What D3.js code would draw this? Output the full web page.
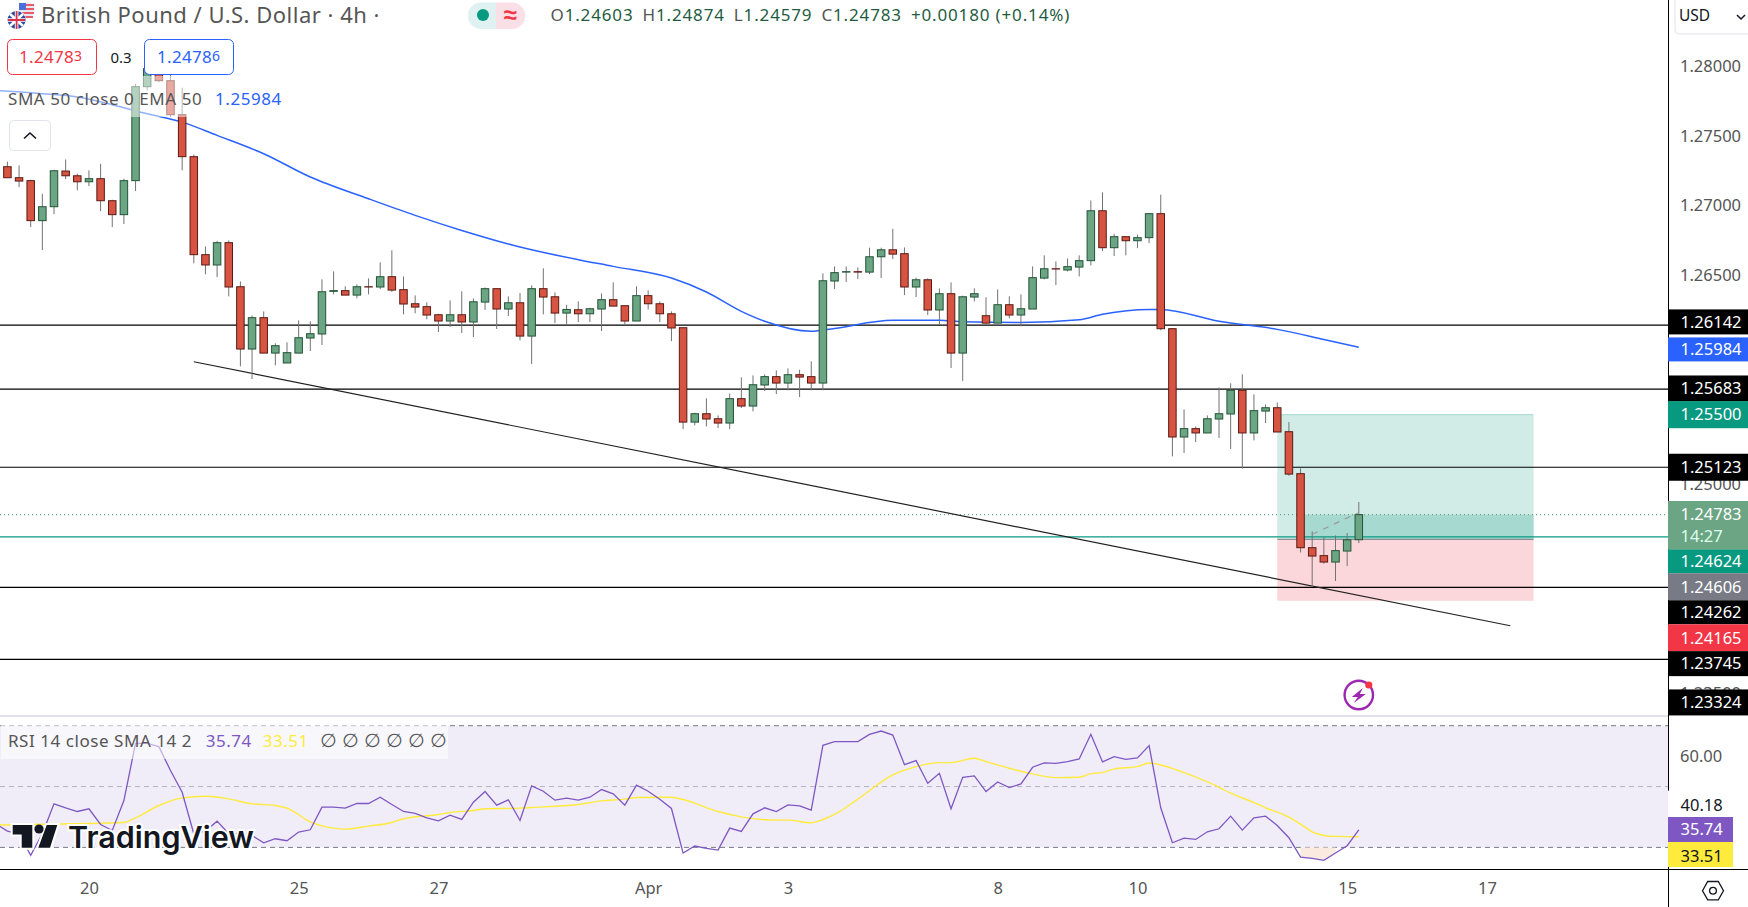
<![CDATA[<!DOCTYPE html>
<html><head><meta charset="utf-8">
<script src="https://cdn.jsdelivr.net/npm/d3@7/dist/d3.min.js"></script>
<style>html,body{margin:0;padding:0;background:#fff;overflow:hidden}svg{display:block}text{font-family:"Noto Sans",sans-serif}</style>
</head><body><svg id="c" width="1748" height="907"></svg>
<script>
// candle index -1 is the clipped first bar; index 116 is the live bar
const opens=[1.27260,1.27279,1.27200,1.27179,1.26892,1.26992,1.27248,1.27214,1.27171,1.27193,1.27035,1.26935,1.27179,1.27853,1.28018,1.27896,1.27652,1.27351,1.26648,1.26574,1.26734,1.26418,1.25971,1.26196,1.25942,1.25871,1.25942,1.26050,1.26079,1.26385,1.26390,1.26358,1.26418,1.26416,1.26490,1.26397,1.26296,1.26275,1.26217,1.26172,1.26217,1.26165,1.26308,1.26404,1.26258,1.26303,1.26064,1.26404,1.26346,1.26229,1.26253,1.26224,1.26258,1.26325,1.26282,1.26172,1.26354,1.26296,1.26224,1.26124,1.25447,1.25507,1.25471,1.25440,1.25615,1.25562,1.25713,1.25773,1.25727,1.25787,1.25773,1.25727,1.26459,1.26523,1.26526,1.26523,1.26633,1.26683,1.26655,1.26416,1.26468,1.26251,1.26368,1.25942,1.26344,1.26210,1.26157,1.26289,1.26215,1.26258,1.26480,1.26547,1.26538,1.26559,1.26605,1.26963,1.26698,1.26777,1.26748,1.26770,1.26942,1.26117,1.25340,1.25400,1.25369,1.25469,1.25505,1.25675,1.25369,1.25526,1.25550,1.25378,1.25077,1.24546,1.24489,1.24443,1.24522,1.24603];
const highs=[1.27279,1.27315,1.27288,1.27186,1.27085,1.27257,1.27331,1.27229,1.27253,1.27300,1.27042,1.27193,1.27874,1.28042,1.28066,1.27946,1.27846,1.27367,1.26707,1.26746,1.26750,1.26456,1.26212,1.26241,1.26012,1.26019,1.26177,1.26170,1.26471,1.26528,1.26421,1.26435,1.26478,1.26593,1.26679,1.26492,1.26356,1.26306,1.26224,1.26320,1.26385,1.26334,1.26413,1.26404,1.26349,1.26373,1.26428,1.26550,1.26377,1.26289,1.26313,1.26267,1.26370,1.26449,1.26282,1.26421,1.26392,1.26313,1.26241,1.26124,1.25514,1.25617,1.25495,1.25651,1.25768,1.25782,1.25789,1.25818,1.25832,1.25823,1.25883,1.26514,1.26564,1.26564,1.26557,1.26698,1.26698,1.26834,1.26700,1.26483,1.26478,1.26406,1.26449,1.26354,1.26406,1.26342,1.26399,1.26349,1.26363,1.26564,1.26643,1.26600,1.26621,1.26643,1.27037,1.27095,1.26798,1.26777,1.26793,1.26942,1.27078,1.26122,1.25538,1.25416,1.25495,1.25696,1.25725,1.25789,1.25646,1.25574,1.25588,1.25447,1.25115,1.24663,1.24622,1.24634,1.24651,1.24874];
const lows=[1.27260,1.27200,1.27133,1.26846,1.26681,1.26939,1.27190,1.27109,1.27140,1.26961,1.26846,1.26868,1.27104,1.27826,1.27886,1.27635,1.27253,1.26586,1.26507,1.26487,1.26349,1.25847,1.25756,1.25942,1.25854,1.25871,1.25942,1.25957,1.26000,1.26363,1.26358,1.26334,1.26363,1.26401,1.26380,1.26220,1.26227,1.26184,1.26093,1.26129,1.26086,1.26057,1.26251,1.26115,1.26208,1.26033,1.25863,1.26220,1.26157,1.26148,1.26165,1.26165,1.26100,1.26279,1.26148,1.26172,1.26255,1.26165,1.26028,1.25397,1.25423,1.25416,1.25404,1.25397,1.25548,1.25524,1.25670,1.25648,1.25675,1.25627,1.25675,1.25675,1.26401,1.26452,1.26473,1.26509,1.26480,1.26617,1.26358,1.26344,1.26215,1.26143,1.25835,1.25741,1.26313,1.26148,1.26157,1.26191,1.26134,1.26258,1.26471,1.26430,1.26528,1.26492,1.26571,1.26674,1.26638,1.26643,1.26695,1.26731,1.26105,1.25201,1.25225,1.25304,1.25369,1.25333,1.25254,1.25113,1.25316,1.25440,1.25376,1.25062,1.24512,1.24264,1.24431,1.24307,1.24414,1.24579];
const closes=[1.27279,1.27200,1.27176,1.26892,1.26992,1.27250,1.27214,1.27171,1.27193,1.27035,1.26935,1.27179,1.27853,1.27982,1.27896,1.27652,1.27351,1.26648,1.26574,1.26734,1.26416,1.25971,1.26196,1.25942,1.25995,1.25945,1.26052,1.26081,1.26382,1.26390,1.26358,1.26418,1.26416,1.26490,1.26394,1.26294,1.26272,1.26215,1.26172,1.26217,1.26165,1.26310,1.26404,1.26258,1.26303,1.26064,1.26404,1.26344,1.26229,1.26255,1.26224,1.26260,1.26325,1.26279,1.26172,1.26354,1.26296,1.26224,1.26122,1.25447,1.25507,1.25469,1.25440,1.25615,1.25562,1.25715,1.25773,1.25727,1.25787,1.25770,1.25727,1.26461,1.26519,1.26526,1.26523,1.26633,1.26683,1.26652,1.26416,1.26468,1.26251,1.26368,1.25942,1.26346,1.26368,1.26157,1.26289,1.26215,1.26260,1.26483,1.26547,1.26545,1.26562,1.26605,1.26963,1.26698,1.26777,1.26748,1.26770,1.26942,1.26117,1.25340,1.25400,1.25369,1.25471,1.25507,1.25675,1.25369,1.25529,1.25550,1.25376,1.25074,1.24546,1.24486,1.24443,1.24525,1.24603,1.24783];
const firstIndex=-1;
const emaIndex=[-1,3,6,9,12,15,18,22,26,31,35,39,44,49,52,57,60,63,65,69,71,76,80,82,87,92,94,98,99,104,109,113,116];
const emaValues=[1.27826,1.27803,1.27779,1.27724,1.27659,1.27599,1.27504,1.27372,1.27205,1.27049,1.26930,1.26822,1.26703,1.26612,1.26564,1.26480,1.26380,1.26241,1.26170,1.26098,1.26119,1.26177,1.26177,1.26167,1.26162,1.26181,1.26220,1.26255,1.26255,1.26170,1.26112,1.26040,1.25984];
const rsiValues=[37.76,35.36,34.48,27.38,34.48,44.32,43.01,41.80,42.68,37.54,35.57,45.41,64.21,64.21,63.11,55.25,48.14,34.48,35.36,38.63,34.48,34.48,33.93,31.53,32.84,32.19,35.03,35.79,43.22,43.22,42.90,44.43,44.43,46.50,44.10,41.80,41.15,39.73,38.74,40.60,39.18,44.86,48.36,43.88,45.63,38.85,50.22,48.47,45.52,46.17,45.52,46.50,49.02,47.60,43.88,50.44,48.47,45.85,42.79,28.14,30.44,29.67,29.13,36.34,35.25,41.04,43.01,41.80,43.99,43.66,42.24,63.55,64.75,64.75,64.75,67.16,68.25,66.94,57.21,58.52,51.09,54.37,42.68,53.06,53.50,48.36,51.53,49.67,50.87,56.34,57.76,57.65,58.20,59.07,67.16,58.09,59.84,58.96,59.40,63.44,43.01,31.53,33.06,32.62,35.14,36.12,40.27,35.68,39.73,40.27,37.21,33.17,26.83,26.39,25.74,28.14,30.55,35.74];
const rsiSmaIndex=[-1,6,10,11,13,15,17,19,21,23,24,26,28,29,31,33,34,37,38,40,41,44,45,49,51,53,54,57,58,61,63,66,67,69,70,71,73,76,78,80,81,83,84,86,88,90,92,93,94,95,97,98,99,101,104,105,107,108,110,111,112,113,114,116];
const rsiSmaValues=[37.32,37.76,38.20,39.73,43.77,46.28,46.83,45.96,44.32,43.77,42.90,38.42,36.34,36.01,37.00,38.20,39.40,40.82,41.48,42.13,42.68,42.90,43.11,44.10,45.30,45.85,46.39,46.50,45.74,41.80,40.05,38.96,38.96,38.09,39.18,40.82,45.85,53.83,56.56,57.87,57.87,59.29,58.20,56.01,54.15,52.95,53.06,54.26,54.59,55.79,56.56,57.76,57.10,54.59,49.78,47.81,44.75,43.01,39.95,37.65,35.14,33.93,33.61,33.51];
const hLevels=[1.26142,1.25683,1.25123,1.24262,1.23745];
const priceTicks=[1.28,1.275,1.27,1.265,1.25,1.235];
const rsiTicks=[60];
const rsiLevels=[70,50,30];
const timeTickIndex=[7,25,37,55,67,85,97,115,127];
const timeTickLabels=["20","25","27","Apr","3","8","10","15","17"];
const tagValues=["1.26142","1.25984","1.25683","1.25500","1.25123","1.24624","1.24606","1.24262","1.24165","1.23745","1.23324"];
const tagColors=["#000","#2962ff","#000","#089981","#000","#089981","#787b86","#000","#f23645","#000","#000"];
const tagNudge=[-3.3,2.2,-0.7,0,0,24.4,47.4,25,37,4.3,-15.6];
const tagHeights=[25,24,26,27,27,24,27,24,27,25,26];
const ohlcLabels=[["O","1.24603"],["H","1.24874"],["L","1.24579"],["C","1.24783"]];

const svg=d3.select("#c");
const x=d3.scaleLinear().domain([0,116]).range([7.4,1358.8]);
const y=d3.scaleLinear().domain([1.28,1.25]).range([66.2,484.4]);
const ry=d3.scaleLinear().domain([70,30]).range([725.7,847.4]);
const indices=d3.range(opens.length).map(i=>i+firstIndex);
const PANEL=1668;
svg.append("defs").append("clipPath").attr("id","pane").append("rect").attr("x",0).attr("y",0).attr("width",PANEL).attr("height",716);
const main=svg.append("g").attr("clip-path","url(#pane)");

// position tool
const boxX0=x(109),boxX1=x(131),entry=1.24606,target=1.25500,stop=1.24165,last=1.24783;
main.append("rect").attr("x",boxX0).attr("y",y(target)).attr("width",boxX1-boxX0).attr("height",y(entry)-y(target)).attr("fill","#d1ece6");
main.append("rect").attr("x",boxX0).attr("y",y(entry)).attr("width",boxX1-boxX0).attr("height",y(stop)-y(entry)).attr("fill","#fbd6da");
main.append("rect").attr("x",x(111)).attr("y",y(last)).attr("width",boxX1-x(111)).attr("height",y(entry)-y(last)).attr("fill","#a6dad0");
main.append("line").attr("x1",boxX0).attr("x2",boxX1).attr("y1",y(target)).attr("y2",y(target)).attr("stroke","#a3dacd").attr("stroke-width",1);
main.append("line").attr("x1",boxX0).attr("x2",boxX1).attr("y1",y(entry)).attr("y2",y(entry)).attr("stroke","#787b86").attr("stroke-width",1);

// horizontals
main.selectAll("line.h").data(hLevels).join("line").attr("class","h").attr("x1",0).attr("x2",PANEL).attr("y1",d=>y(d)).attr("y2",d=>y(d)).attr("stroke","#000").attr("stroke-width",1.2);
main.append("line").attr("x1",0).attr("x2",PANEL).attr("y1",y(1.24624)).attr("y2",y(1.24624)).attr("stroke","#089981").attr("stroke-width",1.2);
main.append("line").attr("x1",0).attr("x2",PANEL).attr("y1",y(last)).attr("y2",y(last)).attr("stroke","#6ba583").attr("stroke-width",1.1).attr("stroke-dasharray","1 3");

// EMA
const emaLine=d3.line().x((d,i)=>x(emaIndex[i])).y(d=>y(d)).curve(d3.curveMonotoneX);
main.append("path").attr("d",emaLine(emaValues)).attr("fill","none").attr("stroke","#2962ff").attr("stroke-width",1.5);

// trend line
main.append("line").attr("x1",x(16)).attr("y1",y(1.25880)).attr("x2",x(129)).attr("y2",y(1.23986)).attr("stroke","#222").attr("stroke-width",1.2);

// candles
const bars=main.selectAll("g.bar").data(indices).join("g").attr("class","bar");
bars.append("line").attr("x1",d=>x(d)).attr("x2",d=>x(d)).attr("y1",(d,i)=>y(highs[i])).attr("y2",(d,i)=>y(lows[i])).attr("stroke","#737375").attr("stroke-width",1);
bars.append("rect").attr("x",d=>x(d)-3.75).attr("width",7.5)
 .attr("y",(d,i)=>y(Math.max(opens[i],closes[i]))).attr("height",(d,i)=>Math.abs(y(opens[i])-y(closes[i])))
 .attr("fill",(d,i)=>closes[i]>=opens[i]?"#6ba583":"#d75442")
 .attr("stroke",(d,i)=>closes[i]>=opens[i]?"#225437":"#5b1a13").attr("stroke-width",1);

// projection arrow
main.append("line").attr("x1",x(112)).attr("y1",y(1.24642)).attr("x2",x(116)-1).attr("y2",y(1.24795)).attr("stroke","#9a9a9a").attr("stroke-width",1.2).attr("stroke-dasharray","6 6");

// legend veil
svg.append("rect").attr("x",0).attr("y",76).attr("width",290).attr("height",41).attr("fill","#fff").attr("opacity",0.5);

// bolt
const bolt=svg.append("g").attr("transform",`translate(${x(116)},695)`);
bolt.append("circle").attr("r",14.2).attr("fill","#fff").attr("stroke","#9c27b0").attr("stroke-width",2.4);
bolt.append("path").attr("d","M4,-7 L-7,2 L-1,2 L-5,8 L7,-1 L1,-1 Z").attr("fill","#9c27b0");
bolt.append("circle").attr("cx",10).attr("cy",-10).attr("r",3.6).attr("fill","#f23645");

// separators
svg.append("rect").attr("x",0).attr("y",715).attr("width",PANEL).attr("height",2).attr("fill","#e0e0ee");

// RSI
svg.append("rect").attr("x",0).attr("y",ry(70)).attr("width",PANEL).attr("height",ry(30)-ry(70)).attr("fill","#f0edf8");
svg.selectAll("line.rl").data(rsiLevels).join("line").attr("class","rl").attr("x1",0).attr("x2",PANEL).attr("y1",d=>ry(d)).attr("y2",d=>ry(d))
 .attr("stroke",d=>d===50?"#b2b5be":"#787b86").attr("stroke-width",1).attr("stroke-dasharray","5 4");
const osIdx=[111,112,113,114];
const osArea=d3.area().x(d=>x(d)).y0(ry(30)).y1(d=>ry(rsiValues[d-firstIndex])).curve(d3.curveLinear);
svg.append("path").attr("d",osArea(osIdx)).attr("fill","#fbeadf");
const rsiLine=d3.line().x((d,i)=>x(i+firstIndex)).y(d=>ry(d));
const smaLine=d3.line().x((d,i)=>x(rsiSmaIndex[i])).y(d=>ry(d)).curve(d3.curveMonotoneX);
svg.append("path").attr("d",smaLine(rsiSmaValues)).attr("fill","none").attr("stroke","#ffeb3b").attr("stroke-width",1.4);
svg.append("path").attr("d",rsiLine(rsiValues)).attr("fill","none").attr("stroke","#7e57c2").attr("stroke-width",1.3);

// axis lines
svg.append("line").attr("x1",0).attr("x2",1748).attr("y1",869.5).attr("y2",869.5).attr("stroke","#000").attr("stroke-width",1.2);
svg.append("line").attr("x1",PANEL+.5).attr("x2",PANEL+.5).attr("y1",0).attr("y2",907).attr("stroke","#000").attr("stroke-width",1);

// price axis
const TX=1680.5;
const pa=svg.append("g").attr("transform",`translate(${PANEL},0)`).call(d3.axisRight(y).tickValues(priceTicks).tickFormat(d3.format(".5f")).tickSize(0).tickPadding(12));
pa.select(".domain").remove();
pa.selectAll("text").attr("fill","#555").style("font-size","16.5px").style("font-family",'"Noto Sans",sans-serif');
const tags=svg.selectAll("g.tag").data(tagValues).join("g").attr("class","tag").attr("transform",(d,i)=>`translate(${PANEL},${y(+d)+tagNudge[i]})`);
tags.append("rect").attr("x",0).attr("y",(d,i)=>-tagHeights[i]/2).attr("width",80).attr("height",(d,i)=>tagHeights[i]).attr("fill",(d,i)=>tagColors[i]);
tags.append("text").attr("x",TX-PANEL).attr("dy","0.35em").attr("fill","#fff").style("font-size","16.5px").text(d=>d);
// live tag
svg.append("rect").attr("x",PANEL).attr("y",501).attr("width",80).attr("height",48.4).attr("fill","#6ba583");
svg.append("text").attr("x",TX).attr("y",y(last)).attr("dy","0.35em").attr("fill","#fff").style("font-size","16.5px").text("1.24783");
svg.append("text").attr("x",TX).attr("y",536).attr("dy","0.35em").attr("fill","#dfe").style("font-size","16.5px").text("14:27");

// rsi axis
svg.append("rect").attr("x",PANEL).attr("y",790.7).attr("width",80).attr("height",27).attr("fill","#fff");
const ra=svg.append("g").attr("transform",`translate(${PANEL},0)`).call(d3.axisRight(ry).tickValues(rsiTicks).tickFormat(d3.format(".2f")).tickSize(0).tickPadding(12));
ra.select(".domain").remove();
ra.selectAll("text").attr("fill","#555").style("font-size","16.5px").style("font-family",'"Noto Sans",sans-serif');
svg.append("text").attr("x",TX).attr("y",805).attr("dy","0.35em").attr("fill","#131722").style("font-size","16.5px").text("40.18");
svg.append("rect").attr("x",PANEL).attr("y",817).attr("width",65).attr("height",25).attr("fill","#7e57c2");
svg.append("text").attr("x",TX).attr("y",829.7).attr("dy","0.35em").attr("fill","#fff").style("font-size","16.5px").text("35.74");
svg.append("rect").attr("x",PANEL).attr("y",842).attr("width",65).attr("height",25).attr("fill","#ffeb3b");
svg.append("text").attr("x",TX).attr("y",856).attr("dy","0.35em").attr("fill","#131722").style("font-size","16.5px").text("33.51");

// time axis
const ta=svg.append("g").attr("transform","translate(0,869)").call(d3.axisBottom(x).tickValues(timeTickIndex).tickFormat((d,i)=>timeTickLabels[i]).tickSize(0).tickPadding(13));
ta.select(".domain").remove();
ta.selectAll("text").attr("fill","#555").style("font-size","16.5px").style("font-family",'"Noto Sans",sans-serif');

// gear
const gear=svg.append("g").attr("transform","translate(1713,890.7)");
gear.append("path").attr("d","M-10.5,0 L-5.3,-9.2 L5.3,-9.2 L10.5,0 L5.3,9.2 L-5.3,9.2 Z").attr("fill","none").attr("stroke","#131722").attr("stroke-width",1.3);
gear.append("circle").attr("r",3.4).attr("fill","none").attr("stroke","#131722").attr("stroke-width",1.3);

// header
svg.append("text").attr("x",41).attr("y",23).attr("fill","#555").style("font-size","22px").style("letter-spacing","0.5px").text("British Pound / U.S. Dollar · 4h ·");
const us=svg.append("g");
us.append("circle").attr("cx",26.6).attr("cy",10).attr("r",8).attr("fill","#e9e9f0");
us.append("path").attr("d","M19,5 H34 M19,9 H34 M19,13 H34 M21,17 H33").attr("stroke","#e8596a").attr("stroke-width",2);
us.append("path").attr("d","M19,3 H26 V10 H19 Z").attr("fill","#4a6fd8");
const uk=svg.append("g");
uk.append("circle").attr("cx",16.6).attr("cy",20).attr("r",9.6).attr("fill","#fff");
uk.append("circle").attr("cx",16.6).attr("cy",20).attr("r",9).attr("fill","#2a4a9e");
uk.append("path").attr("d","M10,14 L23,26 M23,14 L10,26").attr("stroke","#fff").attr("stroke-width",2.5);
uk.append("path").attr("d","M16.6,11 V29 M8,20 H25").attr("stroke","#fff").attr("stroke-width",3.6);
uk.append("path").attr("d","M16.6,11 V29 M8,20 H25").attr("stroke","#d8334a").attr("stroke-width",1.8);

svg.append("path").attr("d","M481,2.5 H498 V29 H481 A13.2,13.2 0 0 1 481,2.5 Z").attr("fill","#dff1f1");
svg.append("path").attr("d","M496,2.5 H512 A13.2,13.2 0 0 1 512,29 H496 Z").attr("fill","#fbdfe7");
svg.append("circle").attr("cx",483).attr("cy",15).attr("r",6).attr("fill","#089981");
svg.append("text").attr("x",510).attr("y",15).attr("dy","0.35em").attr("text-anchor","middle").attr("fill","#f23645").style("font-size","24px").style("font-weight",600).text("≈");

const ohlc=svg.append("text").attr("x",550.5).attr("y",21).style("font-size","17px").style("letter-spacing","0.85px");
ohlcLabels.forEach(([k,v],i)=>{
 ohlc.append("tspan").attr("dx",i?9:0).attr("fill","#555").text(k);
 ohlc.append("tspan").attr("fill","#1f5c3f").text(v);
});
ohlc.append("tspan").attr("dx",9).attr("fill","#1f5c3f").text("+0.00180 (+0.14%)");

// bid / ask
svg.append("rect").attr("x",7.5).attr("y",39.5).attr("width",89).attr("height",35).attr("rx",5).attr("fill","#fff").attr("stroke","#f23645");
const bid=svg.append("text").attr("x",19).attr("y",63).attr("fill","#f23645").style("font-size","17px").style("letter-spacing","0.3px");
bid.append("tspan").text("1.2478");bid.append("tspan").attr("dy",-2.5).style("font-size","14px").text("3");
svg.append("text").attr("x",121).attr("y",63).attr("text-anchor","middle").attr("fill","#131722").style("font-size","15px").text("0.3");
svg.append("rect").attr("x",144.5).attr("y",39.5).attr("width",89).attr("height",35).attr("rx",5).attr("fill","#fff").attr("stroke","#2962ff");
const ask=svg.append("text").attr("x",157).attr("y",63).attr("fill","#2962ff").style("font-size","17px").style("letter-spacing","0.3px");
ask.append("tspan").text("1.2478");ask.append("tspan").attr("dy",-2.5).style("font-size","14px").text("6");

// indicator legend
svg.append("text").attr("x",8).attr("y",105).attr("fill","#555").style("font-size","17px").style("letter-spacing","0.55px").text("SMA 50 close 0 EMA 50");
svg.append("text").attr("x",215).attr("y",105).attr("fill","#2962ff").style("font-size","17px").style("letter-spacing","0.55px").text("1.25984");
svg.append("rect").attr("x",9.5).attr("y",120.5).attr("width",41).attr("height",30).attr("rx",4).attr("fill","#fff").attr("stroke","#e0e3eb");
svg.append("path").attr("d","M24,138.5 L30,133 L36,138.5").attr("fill","none").attr("stroke","#131722").attr("stroke-width",1.6);

svg.append("rect").attr("x",1).attr("y",725).attr("width",447).attr("height",34).attr("fill","#fff").attr("opacity",0.55);
svg.append("text").attr("x",8).attr("y",747).attr("fill","#555").style("font-size","17px").style("letter-spacing","0.55px").text("RSI 14 close SMA 14 2");
svg.append("text").attr("x",205.7).attr("y",747).attr("fill","#7e57c2").style("font-size","17px").style("letter-spacing","0.55px").text("35.74");
svg.append("text").attr("x",262.7).attr("y",747).attr("fill","#ffeb3b").style("font-size","17px").style("letter-spacing","0.55px").text("33.51");
[0,1,2,3,4,5].forEach(k=>svg.append("text").attr("x",320+k*22).attr("y",747).attr("fill","#555").style("font-size","19px").style("font-family",'"DejaVu Sans",sans-serif').text("∅"));

// USD
svg.append("path").attr("d","M1675,0 V30 A4,4 0 0 0 1679,34 H1748").attr("fill","none").attr("stroke","#e0e3eb");
svg.append("text").attr("x",1679).attr("y",21).attr("fill","#131722").style("font-size","15.5px").text("USD");
svg.append("path").attr("d","M1737,15 L1741,19 L1745,15").attr("fill","none").attr("stroke","#131722").attr("stroke-width",1.5);

// TradingView logo
const logo=svg.append("g");
const mark=logo.append("g");
mark.append("path").attr("d","M12.7,825 H32.3 V847.7 H21.7 V834.5 H12.7 Z M46.7,825 H57.3 L50,847.7 H38.3 Z").attr("fill","#131722").attr("stroke","#fff").attr("stroke-width",4).attr("paint-order","stroke");
mark.append("circle").attr("cx",39).attr("cy",829).attr("r",4.6).attr("fill","#131722");
logo.append("text").attr("x",68).attr("y",847.5).attr("fill","#131722").attr("stroke","#fff").attr("stroke-width",4).attr("paint-order","stroke").style("font-family","Inter,sans-serif").style("font-weight",600).style("font-size","30.5px").text("TradingView");
</script></body></html>]]>
